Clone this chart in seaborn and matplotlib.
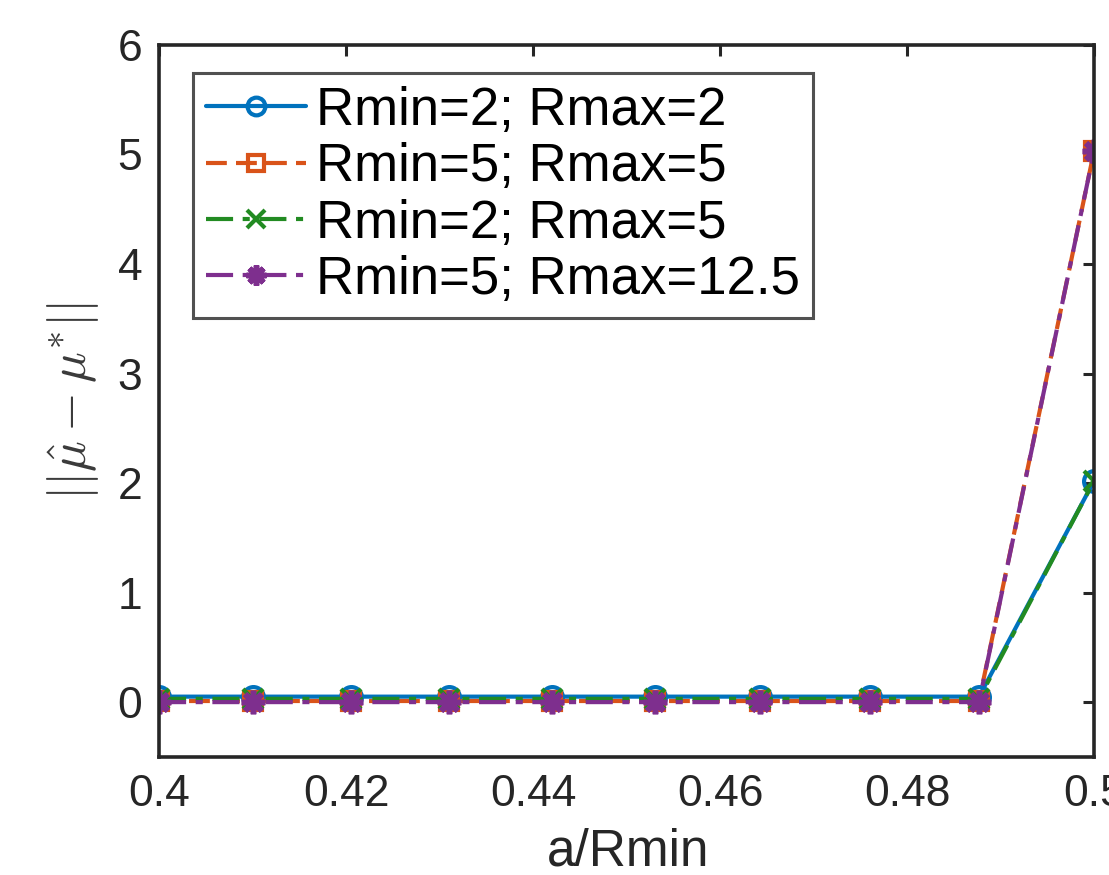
import numpy as np
import pandas as pd
import matplotlib
matplotlib.use("Agg")
import matplotlib.pyplot as plt
import seaborn as sns

# values
a_over_rmin = [0.4, 0.41, 0.4205, 0.431, 0.442, 0.453, 0.4643, 0.476, 0.4877, 0.5]
err_2_2 = [0.05, 0.05, 0.05, 0.05, 0.05, 0.05, 0.05, 0.05, 0.05, 2.02]
err_5_5 = [0.01, 0.01, 0.01, 0.01, 0.01, 0.01, 0.01, 0.01, 0.01, 5.03]
err_2_5 = [0.03, 0.03, 0.03, 0.03, 0.03, 0.03, 0.03, 0.03, 0.03, 2.02]
err_5_12 = [0.0, 0.0, 0.0, 0.0, 0.0, 0.0, 0.0, 0.0, 0.0, 5.03]

labels = ["Rmin=2; Rmax=2", "Rmin=5; Rmax=5", "Rmin=2; Rmax=5", "Rmin=5; Rmax=12.5"]

sns.set_style("white")
plt.rcParams['font.family'] = ['Liberation Sans', 'DejaVu Sans']
plt.rcParams['mathtext.fontset'] = 'cm'

fig = plt.figure(figsize=(11.09, 8.75), dpi=100)
ax = fig.add_axes([0.1434, 0.135, 0.8431, 0.8136])

dark = '#262626'
lw = 3.0
ms = 15

sns.lineplot(x=a_over_rmin, y=err_2_2, ax=ax, color='#0072BD', linestyle='-', lw=lw,
             marker='o', markersize=ms, markerfacecolor='none', markeredgewidth=3,
             markeredgecolor='#0072BD', label=labels[0])
sns.lineplot(x=a_over_rmin, y=err_5_5, ax=ax, color='#D95319', linestyle=(0, (5, 2.2)), lw=lw,
             marker='s', markersize=ms - 2, markerfacecolor='none', markeredgewidth=3,
             markeredgecolor='#D95319', label=labels[1])
sns.lineplot(x=a_over_rmin, y=err_2_5, ax=ax, color='#228B22', linestyle=(0, (6.5, 2.3, 1.7, 2.3)), lw=lw,
             marker='x', markersize=ms, markeredgewidth=3, markeredgecolor='#228B22',
             label=labels[2])
sns.lineplot(x=a_over_rmin, y=err_5_12, ax=ax, color='#7E2F8E', linestyle=(0, (6.5, 2.3, 1.7, 2.3)), lw=lw,
             marker=(8, 2, 0), markersize=ms + 2, markeredgewidth=4, markeredgecolor='#7E2F8E',
             label=labels[3])

ax.set_xlim(0.4, 0.5)
ax.set_ylim(-0.5, 6)
ax.set_xticks([0.4, 0.42, 0.44, 0.46, 0.48, 0.5])
ax.set_xticklabels(['0.4', '0.42', '0.44', '0.46', '0.48', '0.5'])
ax.set_yticks([0, 1, 2, 3, 4, 5, 6])

for s in ax.spines.values():
    s.set_visible(True)
    s.set_color(dark)
    s.set_linewidth(2.6)

ax.tick_params(axis='both', which='both', direction='in', length=8, width=2.2,
               colors=dark, labelsize=32, pad=12, top=True, right=True)

ax.set_xlabel('a/Rmin', fontsize=37, color=dark, va='baseline')
ax.xaxis.set_label_coords(0.502, -0.152)
ax.set_ylabel(r'$||\hat{\mu} - \mu^{*}||$', fontsize=37, color='#3a3a3a')
ax.yaxis.set_label_coords(-0.062, 0.5)

leg = ax.legend(loc='upper left', bbox_to_anchor=(0.036, 0.961), fontsize=38,
                frameon=True, fancybox=False, edgecolor=dark, handlelength=1.9,
                handletextpad=0.18, labelspacing=0.12, borderpad=0.25, borderaxespad=0,
                markerscale=0.85)
leg.get_frame().set_linewidth(2.2)
for t in leg.get_texts():
    t.set_color('black')

fig.savefig('out.png', dpi=100)
